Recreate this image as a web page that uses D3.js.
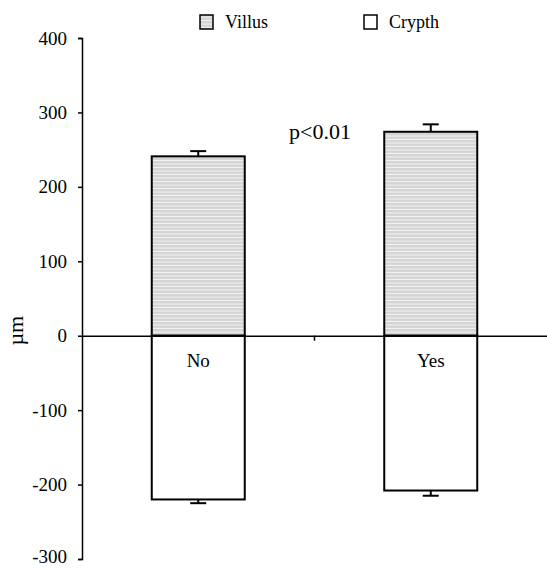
<!DOCTYPE html>
<html>
<head>
<meta charset="utf-8">
<script src="https://cdn.jsdelivr.net/npm/d3@7"></script>
<style>
  body { margin: 0; background: #fff; }
  text { font-family: "Liberation Serif", "DejaVu Serif", serif; fill: #000; }
</style>
</head>
<body>
<div id="wrapper"></div>
<script>
const groups = ['No', 'Yes']
const villus = [241, 274]
const villusErr = [7, 10]
const crypt = [-220, -208]
const cryptErr = [5, 7]
const yTicks = [-300, -200, -100, 0, 100, 200, 300, 400]

const width = 547
const height = 568
const serif = '"Liberation Serif", "DejaVu Serif", serif'

const svg = d3.select('#wrapper')
    .append('svg')
        .attr('width', width)
        .attr('height', height)

const defs = svg.append('defs')
const pat = defs.append('pattern')
    .attr('id', 'stripes')
    .attr('patternUnits', 'userSpaceOnUse')
    .attr('width', 8)
    .attr('height', 3.5)
pat.append('rect')
    .attr('width', 8)
    .attr('height', 3.5)
    .attr('fill', '#d4d4d4')
pat.append('rect')
    .attr('y', 2.5)
    .attr('width', 8)
    .attr('height', 1)
    .attr('fill', '#f4f4f4')

const y = d3.scaleLinear()
    .domain([-300, 400])
    .range([559, 38])

const x = d3.scaleBand()
    .domain(groups)
    .range([82, 547])
    .paddingInner(0.6)
    .paddingOuter(0.3)

const bounds = svg.append('g')

// villus bars (positive)
bounds.selectAll('.villus')
    .data(groups)
    .join('rect')
        .attr('class', 'villus')
        .attr('x', d => x(d))
        .attr('width', x.bandwidth())
        .attr('y', (d, i) => y(villus[i]))
        .attr('height', (d, i) => y(0) - y(villus[i]))
        .attr('fill', 'url(#stripes)')
        .attr('stroke', '#000')
        .attr('stroke-width', 2)

// crypt bars (negative)
bounds.selectAll('.crypt')
    .data(groups)
    .join('rect')
        .attr('class', 'crypt')
        .attr('x', d => x(d))
        .attr('width', x.bandwidth())
        .attr('y', y(0))
        .attr('height', (d, i) => y(crypt[i]) - y(0))
        .attr('fill', '#fff')
        .attr('stroke', '#000')
        .attr('stroke-width', 2)

// error bars
const errG = bounds.append('g')
    .attr('stroke', '#000')
    .attr('stroke-width', 2)
groups.forEach((g, i) => {
    const cx = x(g) + x.bandwidth() / 2
    const top = y(villus[i] + villusErr[i])
    errG.append('line')
        .attr('x1', cx).attr('x2', cx)
        .attr('y1', y(villus[i])).attr('y2', top)
    errG.append('line')
        .attr('x1', cx - 8).attr('x2', cx + 8)
        .attr('y1', top).attr('y2', top)
    const bot = y(crypt[i] - cryptErr[i])
    errG.append('line')
        .attr('x1', cx).attr('x2', cx)
        .attr('y1', y(crypt[i])).attr('y2', bot)
    errG.append('line')
        .attr('x1', cx - 8).attr('x2', cx + 8)
        .attr('y1', bot).attr('y2', bot)
})

// y axis
const yAxis = d3.axisLeft(y)
    .tickValues(yTicks)
    .tickFormat(d => String(d))
    .tickSize(4)
    .tickPadding(11)
const yG = svg.append('g')
    .attr('transform', 'translate(82,0)')
    .call(yAxis)
    .attr('font-family', serif)
    .attr('font-size', 19)
yG.select('.domain').attr('stroke-width', 1.5)
yG.selectAll('.tick line').attr('stroke-width', 1.5)
// keep the lowest label inside the page
yG.selectAll('.tick text')
    .filter(d => d === yTicks[0])
    .attr('dy', '0.2em')

// x axis at zero
const xAxis = d3.axisBottom(x).tickSize(0).tickPadding(18)
const xG = svg.append('g')
    .attr('transform', `translate(0,${y(0)})`)
    .call(xAxis)
    .attr('font-family', serif)
    .attr('font-size', 19)
xG.select('.domain').attr('stroke-width', 1.5)

// tick between the categories
const midX = (x('No') + x.bandwidth() + x('Yes')) / 2
svg.append('line')
    .attr('x1', midX).attr('x2', midX)
    .attr('y1', y(0)).attr('y2', y(0) + 5)
    .attr('stroke', '#000')
    .attr('stroke-width', 1.5)

// y label
svg.append('text')
    .attr('transform', `translate(23,${y(0) - 5}) rotate(-90)`)
    .attr('text-anchor', 'middle')
    .style('font-size', '22px')
    .text('µm')

// annotation
svg.append('text')
    .attr('x', 320)
    .attr('y', 139)
    .attr('text-anchor', 'middle')
    .style('font-size', '22px')
    .text('p<0.01')

// legend
const legend = [
    { name: 'Villus', fill: 'url(#stripes)', x: 200 },
    { name: 'Crypth', fill: '#fff', x: 364 }
]
const lg = svg.append('g')
lg.selectAll('rect')
    .data(legend)
    .join('rect')
        .attr('x', d => d.x)
        .attr('y', 15)
        .attr('width', 13)
        .attr('height', 14)
        .attr('fill', d => d.fill)
        .attr('stroke', '#000')
        .attr('stroke-width', 1.5)
lg.selectAll('text')
    .data(legend)
    .join('text')
        .attr('x', d => d.x + 25)
        .attr('y', 28)
        .style('font-size', '18px')
        .text(d => d.name)
</script>
</body>
</html>
